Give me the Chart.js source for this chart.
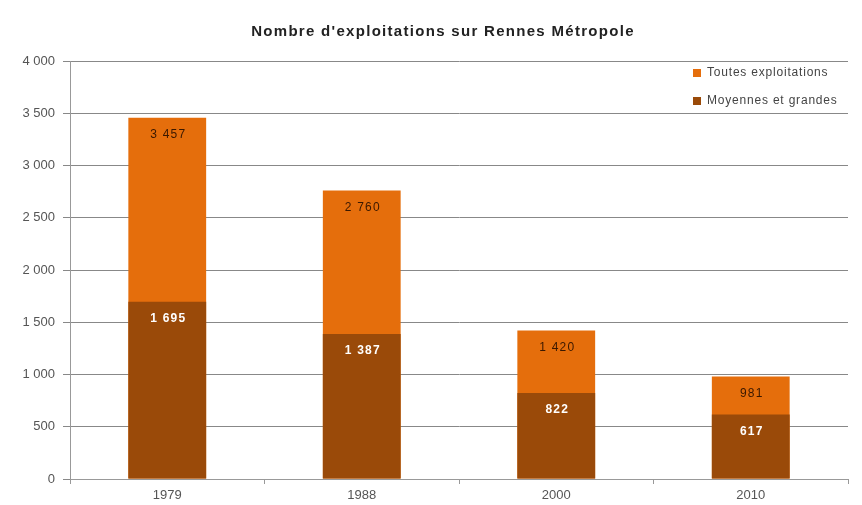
<!DOCTYPE html>
<html><head><meta charset="utf-8">
<script src="https://cdn.jsdelivr.net/npm/chart.js@4/dist/chart.umd.min.js"></script>
<style>html,body{margin:0;padding:0;background:#fff}#wrap{width:862px;height:505px}</style>
</head><body><div id="wrap"><canvas id="c" width="862" height="505"></canvas></div>
<script>
const title = "Nombre d'exploitations sur Rennes Métropole";
const categories = ["1979", "1988", "2000", "2010"];
const seriesNames = ["Toutes exploitations", "Moyennes et grandes"];
const toutes = [3457, 2760, 1420, 981];
const moyennes = [1695, 1387, 822, 617];
const yTicks = [0, 500, 1000, 1500, 2000, 2500, 3000, 3500, 4000];

const ORANGE = '#E56E0C', BROWN = '#9A4A09';
const FONT = '"Liberation Sans", Arial, sans-serif';
const fmt = v => String(v).replace(/\B(?=(\d{3})+(?!\d))/g, ' ');

function spaced(ctx, text, x, y, spacing) {
  ctx.letterSpacing = spacing + 'px';
  ctx.fillText(text, x, y);
  ctx.letterSpacing = '0px';
}

const overlay = {
  id: 'overlay',
  afterDatasetsDraw(chart) {
    const ctx = chart.ctx;
    ctx.save();
    ctx.textAlign = 'center';
    ctx.textBaseline = 'middle';
    chart.data.datasets.forEach((ds, di) => {
      const meta = chart.getDatasetMeta(di);
      meta.data.forEach((bar, i) => {
        const isDark = ds.label === seriesNames[1];
        ctx.font = (isDark ? 'bold ' : '') + '12px ' + FONT;
        ctx.fillStyle = isDark ? '#ffffff' : '#3a1800';
        spaced(ctx, fmt(ds.data[i]), bar.x + 1, bar.y + 17, 1.2);
      });
    });
    // legend
    const lx = 693;
    ctx.textAlign = 'left';
    ctx.font = '12px ' + FONT;
    [[ORANGE, seriesNames[0], 73], [BROWN, seriesNames[1], 101]].forEach(([c, t, y]) => {
      ctx.fillStyle = c;
      ctx.fillRect(lx, y - 4, 8, 8);
      ctx.fillStyle = '#444';
      spaced(ctx, t, lx + 14, y, 0.8);
    });
    // title
    ctx.textAlign = 'center';
    ctx.font = 'bold 15px ' + FONT;
    ctx.fillStyle = '#222';
    spaced(ctx, title, 443, 32, 1.3);
    ctx.restore();
  }
};

new Chart(document.getElementById('c'), {
  type: 'bar',
  data: {
    labels: categories,
    datasets: [
      { label: seriesNames[1], data: moyennes, backgroundColor: BROWN, grouped: false, categoryPercentage: 1, barPercentage: 0.4 },
      { label: seriesNames[0], data: toutes, backgroundColor: ORANGE, grouped: false, categoryPercentage: 1, barPercentage: 0.4 }
    ]
  },
  options: {
    responsive: false,
    animation: false,
    layout: { padding: { top: 61, right: 14, left: 0, bottom: 0 } },
    plugins: { legend: { display: false }, tooltip: { enabled: false }, title: { display: false } },
    scales: {
      x: {
        grid: { display: true, drawOnChartArea: false, offset: true, tickLength: 5, color: '#999' },
        border: { display: true, color: '#999' },
        ticks: { color: '#555', font: { size: 13, family: FONT }, padding: 4 },
        afterFit: s => { s.height = 26; }
      },
      y: {
        min: 0, max: 4000,
        afterBuildTicks: s => { s.ticks = yTicks.map(v => ({ value: v })); },
        grid: { color: '#888', tickLength: 7, tickColor: '#888' },
        border: { display: true, color: '#999' },
        ticks: { color: '#555', font: { size: 13, family: FONT }, padding: 8, callback: v => fmt(v) },
        afterFit: s => { s.width = 70; }
      }
    }
  },
  plugins: [overlay]
});
</script></body></html>
